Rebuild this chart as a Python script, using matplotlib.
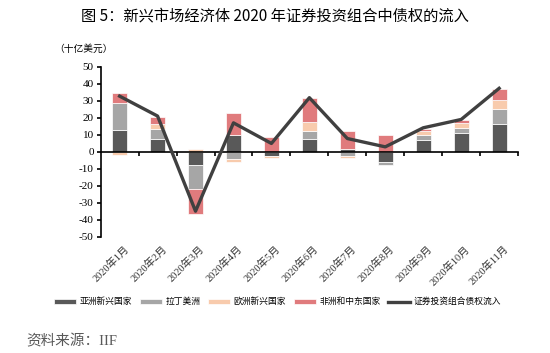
import matplotlib
matplotlib.use('Agg')
import matplotlib.pyplot as plt
import numpy as np

plt.rcParams['font.family'] = ['Liberation Serif', 'Noto Sans CJK SC', 'DejaVu Sans']
plt.rcParams['axes.unicode_minus'] = False

# 数据 (十亿美元)
months = ['2020年1月', '2020年2月', '2020年3月', '2020年4月', '2020年5月', '2020年6月',
          '2020年7月', '2020年8月', '2020年9月', '2020年10月', '2020年11月']
asia = [12.7, 7.3, -7.5, 9.6, -2.2, 7.3, 1.4, -5.9, 6.7, 11.0, 16.3]
latam = [16.1, 6.0, -14.1, -4.5, 0.0, 5.2, -2.7, -1.7, 2.9, 2.7, 8.8]
europe = [-2.0, 3.2, 1.8, -1.6, -1.7, 4.8, -1.0, 0.0, 2.6, 3.2, 5.5]
mideast = [5.9, 4.1, -14.9, 13.3, 8.6, 14.1, 10.6, 10.0, 1.1, 1.9, 6.5]
total = [32.7, 21.0, -34.9, 17.0, 4.9, 31.8, 7.8, 2.9, 14.1, 19.0, 37.3]

series = [asia, latam, europe, mideast]
names = ['亚洲新兴国家', '拉丁美洲', '欧洲新兴国家', '非洲和中东国家']
colors = ['#595959', '#a6a6a6', '#f8cbad', '#e07b7d']

fig = plt.figure(figsize=(5.5, 3.53), dpi=100)
ax = fig.add_axes([0.183, 0.329, 0.759, 0.482])

x = np.arange(len(months))
pos_bottom = np.zeros(len(months))
neg_bottom = np.zeros(len(months))
handles = []
for vals, name, c in zip(series, names, colors):
    v = np.array(vals)
    b = np.where(v >= 0, pos_bottom, neg_bottom)
    h = ax.bar(x, v, width=0.4, bottom=b, color=c, edgecolor='white', linewidth=0.5,
               label=name, zorder=2)
    handles.append(h)
    pos_bottom += np.where(v >= 0, v, 0)
    neg_bottom += np.where(v < 0, v, 0)

ln, = ax.plot(x, total, color='#404040', linewidth=2.4, label='证券投资组合债权流入', zorder=3)
handles.append(ln)

ax.set_ylim(-50, 50)
ax.set_yticks(range(-50, 51, 10))
ax.set_xlim(-0.5, 10.5)
ax.spines['top'].set_visible(False)
ax.spines['right'].set_visible(False)
ax.spines['bottom'].set_position(('data', 0))
ax.spines['left'].set_linewidth(1.2)
ax.spines['bottom'].set_linewidth(1.2)
ax.set_xticks(np.arange(0.5, 11, 1))
ax.set_xticklabels([])
ax.tick_params(axis='x', direction='out', length=3, width=1.2)
ax.tick_params(axis='y', direction='out', length=3, width=1.2, labelsize=8, pad=2)

# 月份标签
for i, m in enumerate(months):
    ax.text(i + 0.1, -0.04, m, transform=ax.get_xaxis_transform(), rotation=45,
            ha='right', va='top', rotation_mode='anchor', fontsize=7.5, color='#333333')

fig.text(0.5, 0.955, '图 5：新兴市场经济体 2020 年证券投资组合中债权的流入',
         ha='center', va='center', fontsize=11, family=['Noto Sans CJK SC', 'DejaVu Sans'])
fig.text(0.098, 0.862, '（十亿美元）', ha='left', va='center', fontsize=7,
         family=['Noto Sans CJK SC', 'DejaVu Sans'])

fig.legend(handles=handles, loc='center', bbox_to_anchor=(0.505, 0.145), ncol=5, frameon=False,
           handlelength=2.5, handleheight=0.5, columnspacing=0.9,
           handletextpad=0.4, prop={'family': ['Noto Sans CJK SC', 'DejaVu Sans'], 'size': 6.3})

fig.text(0.048, 0.032, '资料来源：IIF', ha='left', va='center', fontsize=10.5,
         color='#595959', family=['Liberation Serif', 'Noto Sans CJK SC', 'DejaVu Sans'])

fig.savefig('out.png', dpi=100)
